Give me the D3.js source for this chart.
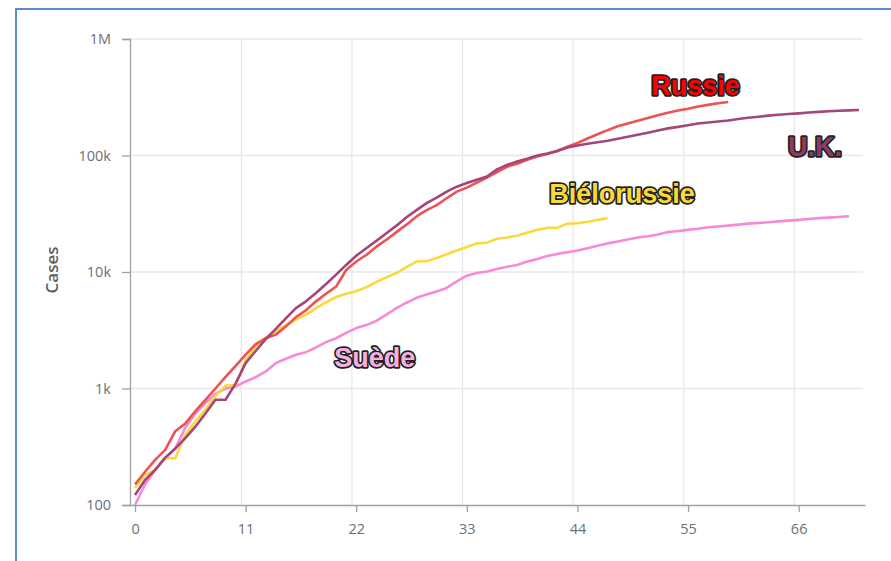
<!DOCTYPE html>
<html>
<head>
<meta charset="utf-8">
<script src="https://cdn.jsdelivr.net/npm/d3@7"></script>
<style>
  html, body { margin: 0; padding: 0; background: #fff; }
  svg { display: block; }
</style>
</head>
<body>
<svg id="chart" width="891" height="561"></svg>
<script>
// ---------- data ----------
const seriesNames = ["Suède", "Biélorussie", "Russie", "U.K."];

const russia = [150, 193, 244, 297, 430, 500, 640, 800, 1000, 1260, 1560, 1950, 2400, 2700, 2900,
  3400, 4100, 4700, 5600, 6500, 7500, 10400, 12300, 14000, 16500, 18900, 22000, 25500, 30000,
  34000, 37500, 43000, 49000, 53000, 58500, 64500, 72000, 80000, 85000, 92000, 98000, 103000,
  110000, 119000, 128000, 140000, 152000, 165000, 178000, 188000, 199000, 210000, 222000,
  233000, 243000, 252000, 263000, 272000, 281000, 288000];

const uk = [122, 164, 200, 255, 305, 375, 470, 610, 800, 800, 1100, 1650, 2100, 2650, 3250, 4000,
  4900, 5600, 6600, 7900, 9500, 11500, 13800, 16000, 18500, 21500, 25000, 29500, 34000, 39000,
  43500, 49000, 54000, 58000, 62000, 66000, 76000, 83000, 89000, 94000, 100000, 104000, 109000,
  117000, 122000, 126000, 130000, 134000, 139000, 145000, 151000, 157000, 164000, 171000,
  176000, 182000, 188000, 192000, 196000, 200000, 206000, 211000, 215000, 220000, 224000,
  227000, 230000, 234000, 237000, 240000, 242000, 244000, 246000];

const belarus = [140, 180, 200, 252, 252, 400, 520, 660, 860, 1060, 1070, 1750, 2300, 2750, 3100,
  3500, 3900, 4300, 4900, 5500, 6100, 6500, 6850, 7400, 8200, 9000, 9800, 11000, 12300, 12400,
  13200, 14200, 15300, 16400, 17600, 17800, 19300, 19800, 20500, 21700, 23000, 23900, 24000,
  26000, 26200, 27000, 28000, 29000];

const sweden = [100, 150, 200, 250, 305, 460, 610, 750, 900, 1000, 1040, 1150, 1250, 1400, 1650,
  1800, 1950, 2050, 2250, 2500, 2700, 3000, 3300, 3500, 3800, 4300, 4900, 5450, 6000, 6400, 6800,
  7300, 8300, 9300, 9800, 10100, 10600, 11100, 11500, 12300, 12900, 13700, 14300, 14800, 15300,
  16000, 16800, 17600, 18300, 19000, 19800, 20300, 21000, 22000, 22500, 23000, 23500, 24200,
  24600, 25000, 25500, 26000, 26300, 26700, 27200, 27600, 28000, 28500, 29000, 29300, 29700,
  30100];

const xTicks = [0, 11, 22, 33, 44, 55, 66];
const yTicks = [100, 1000, 10000, 100000, 1000000];
const yTickLabels = ["100", "1k", "10k", "100k", "1M"];
const yAxisTitle = "Cases";

// ---------- layout / style ----------
const lineColors = { "Russie": "#ee5252", "U.K.": "#a4467a", "Biélorussie": "#fad93e", "Suède": "#f48ad8" };
const labelColors = { "Russie": "#ff0000", "U.K.": "#8e3a66", "Biélorussie": "#f8d93a", "Suède": "#f6afe2" };
// label anchors in data coordinates (day, cases)
const labelAnchors = { "Russie": [51.35, 330000], "U.K.": [64.95, 99000], "Biélorussie": [41.2, 39000], "Suède": [19.81, 1530] };
const seriesData = { "Russie": russia, "U.K.": uk, "Biélorussie": belarus, "Suède": sweden };

const svg = d3.select("#chart");

// outer frame
svg.append("rect")
  .attr("x", 16).attr("y", 9).attr("width", 900).attr("height", 600)
  .attr("fill", "none").attr("stroke", "#5a8ad0").attr("stroke-width", 2);

const x = d3.scaleLinear().domain([-0.5, 72.6]).range([130, 865]);
const y = d3.scaleLog().domain([100, 1000000]).range([505, 39]);

const tickFont = "'Open Sans', 'Noto Sans', sans-serif";

// grid
const grid = svg.append("g");
grid.selectAll("line.h").data(yTicks.slice(1)).join("line")
  .attr("x1", x(-0.5)).attr("x2", x(72.4))
  .attr("y1", d => y(d)).attr("y2", d => y(d))
  .attr("stroke", "#e8e8e8").attr("stroke-width", 1.3);
grid.selectAll("line.v").data(xTicks.slice(1)).join("line")
  .attr("x1", d => x(d) - 4.3).attr("x2", d => x(d) - 4.3)
  .attr("y1", y(1000000)).attr("y2", y(100))
  .attr("stroke", "#e8e8e8").attr("stroke-width", 1.3);

// y axis
const yAxis = d3.axisLeft(y).tickValues(yTicks)
  .tickFormat((d, i) => yTickLabels[i]).tickSize(8).tickPadding(11);
const gy = svg.append("g").attr("transform", `translate(${x(-0.5)},0)`).call(yAxis);
gy.select(".domain").attr("stroke", "#a0a0a0").attr("stroke-width", 1.3);
gy.selectAll(".tick line").attr("stroke", "#a0a0a0").attr("stroke-width", 1.3);
gy.selectAll(".tick text").attr("fill", "#6f6f6f").style("font-family", tickFont).style("font-size", "14.5px");

// x axis
const xAxis = d3.axisBottom(x).tickValues(xTicks).tickSize(7).tickPadding(12).tickSizeOuter(0);
const gx = svg.append("g").attr("transform", `translate(0,${y(100)})`).call(xAxis);
gx.select(".domain").attr("stroke", "#a0a0a0").attr("stroke-width", 1.3);
gx.selectAll(".tick line").attr("stroke", "#a0a0a0").attr("stroke-width", 1.3);
gx.selectAll(".tick text").attr("fill", "#6f6f6f").style("font-family", tickFont).style("font-size", "14.5px");

// y axis title
svg.append("text")
  .attr("transform", `translate(58,270) rotate(-90)`)
  .attr("text-anchor", "middle")
  .attr("fill", "#5e5e5e")
  .style("font-family", tickFont).style("font-size", "17px").style("font-weight", "600")
  .text(yAxisTitle);

// lines
const line = d3.line().x((d, i) => x(i)).y(d => y(d));
svg.append("g").selectAll("path").data(seriesNames).join("path")
  .attr("d", n => line(seriesData[n]))
  .attr("fill", "none")
  .attr("stroke", n => lineColors[n])
  .attr("stroke-width", 2.6)
  .attr("stroke-linejoin", "round");

// series labels
svg.append("g").selectAll("text").data(seriesNames).join("text")
  .attr("x", n => x(labelAnchors[n][0]))
  .attr("y", n => y(labelAnchors[n][1]))
  .attr("fill", n => labelColors[n])
  .attr("stroke", "#222")
  .attr("stroke-width", 3.4)
  .attr("stroke-linejoin", "round")
  .attr("paint-order", "stroke")
  .style("font-family", "'Liberation Sans', Arial, sans-serif")
  .style("font-weight", "bold")
  .style("font-size", "27px")
  .text(n => n);
</script>
</body>
</html>
